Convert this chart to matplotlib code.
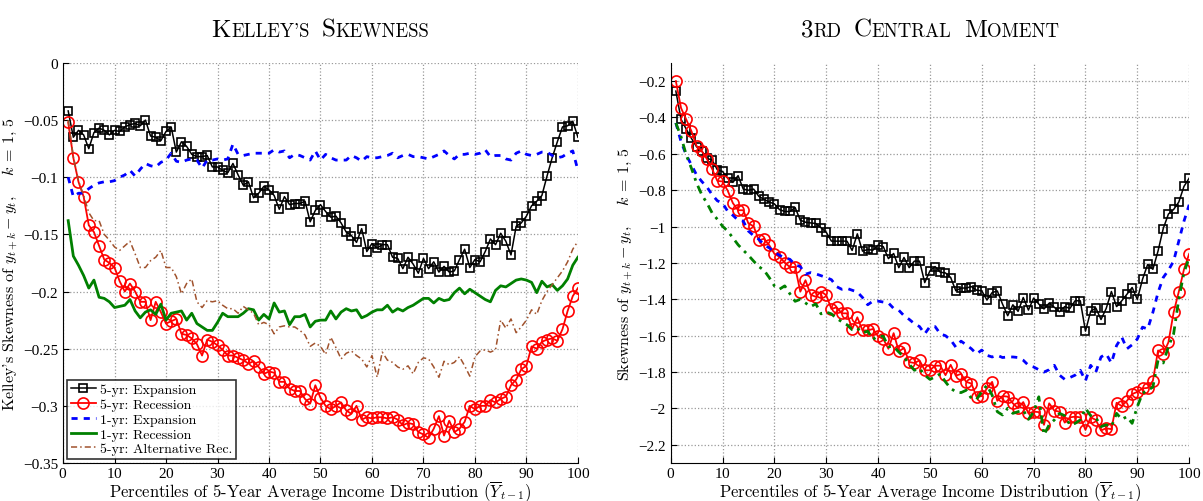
import matplotlib
matplotlib.use("Agg")
import matplotlib.pyplot as plt
import numpy as np
from matplotlib.offsetbox import TextArea, HPacker, AnchoredOffsetbox

plt.rcParams['font.family'] = ['cmr10', 'DejaVu Serif']
plt.rcParams['mathtext.fontset'] = 'cm'
plt.rcParams['axes.formatter.use_mathtext'] = True

pct = np.arange(1, 101)

# Kelley's skewness (left panel)
kel_exp5 = [-0.042, -0.065, -0.059, -0.063, -0.075, -0.061, -0.057, -0.059, -0.063, -0.059,
            -0.060, -0.056, -0.054, -0.053, -0.055, -0.050, -0.064, -0.065, -0.068, -0.060,
            -0.056, -0.078, -0.069, -0.073, -0.080, -0.082, -0.082, -0.081, -0.091, -0.091,
            -0.094, -0.096, -0.088, -0.098, -0.107, -0.104, -0.118, -0.114, -0.108, -0.111,
            -0.116, -0.128, -0.117, -0.124, -0.123, -0.123, -0.121, -0.139, -0.129, -0.124,
            -0.130, -0.135, -0.134, -0.140, -0.148, -0.151, -0.157, -0.145, -0.165, -0.158,
            -0.162, -0.159, -0.159, -0.170, -0.171, -0.180, -0.170, -0.176, -0.184, -0.171,
            -0.180, -0.174, -0.183, -0.178, -0.183, -0.182, -0.172, -0.163, -0.179, -0.172,
            -0.174, -0.165, -0.154, -0.159, -0.149, -0.156, -0.168, -0.143, -0.140, -0.134,
            -0.125, -0.121, -0.116, -0.099, -0.083, -0.069, -0.056, -0.055, -0.051, -0.065]
kel_rec5 = [-0.052, -0.083, -0.104, -0.117, -0.142, -0.148, -0.160, -0.172, -0.175, -0.179,
            -0.191, -0.200, -0.193, -0.200, -0.209, -0.209, -0.225, -0.209, -0.218, -0.228,
            -0.226, -0.224, -0.237, -0.238, -0.241, -0.246, -0.256, -0.242, -0.244, -0.247,
            -0.251, -0.256, -0.256, -0.258, -0.260, -0.263, -0.261, -0.266, -0.272, -0.270,
            -0.271, -0.279, -0.279, -0.285, -0.287, -0.287, -0.294, -0.298, -0.282, -0.293,
            -0.300, -0.303, -0.300, -0.297, -0.304, -0.307, -0.300, -0.312, -0.310, -0.311,
            -0.310, -0.310, -0.311, -0.310, -0.312, -0.317, -0.315, -0.316, -0.323, -0.325,
            -0.328, -0.320, -0.309, -0.326, -0.313, -0.323, -0.320, -0.314, -0.300, -0.303,
            -0.300, -0.300, -0.295, -0.297, -0.294, -0.292, -0.282, -0.277, -0.268, -0.265,
            -0.248, -0.250, -0.244, -0.242, -0.241, -0.243, -0.233, -0.217, -0.204, -0.197]
kel_exp1 = [-0.100, -0.117, -0.114, -0.114, -0.110, -0.107, -0.105, -0.104, -0.104, -0.103,
            -0.100, -0.098, -0.094, -0.099, -0.093, -0.088, -0.090, -0.091, -0.087, -0.085,
            -0.079, -0.086, -0.087, -0.085, -0.084, -0.085, -0.092, -0.085, -0.085, -0.084,
            -0.085, -0.084, -0.071, -0.080, -0.081, -0.080, -0.079, -0.079, -0.079, -0.079,
            -0.076, -0.078, -0.077, -0.083, -0.080, -0.081, -0.083, -0.085, -0.077, -0.085,
            -0.080, -0.083, -0.085, -0.085, -0.085, -0.081, -0.083, -0.086, -0.082, -0.083,
            -0.083, -0.082, -0.081, -0.079, -0.083, -0.081, -0.080, -0.082, -0.082, -0.083,
            -0.084, -0.082, -0.080, -0.077, -0.081, -0.084, -0.080, -0.080, -0.079, -0.080,
            -0.079, -0.076, -0.082, -0.081, -0.081, -0.084, -0.085, -0.079, -0.077, -0.080,
            -0.081, -0.080, -0.078, -0.078, -0.081, -0.083, -0.082, -0.079, -0.077, -0.094]
kel_rec1 = [-0.138, -0.169, -0.177, -0.186, -0.197, -0.190, -0.205, -0.206, -0.209, -0.214,
            -0.213, -0.212, -0.207, -0.217, -0.223, -0.218, -0.216, -0.220, -0.211, -0.225,
            -0.219, -0.218, -0.217, -0.225, -0.219, -0.228, -0.231, -0.234, -0.234, -0.227,
            -0.219, -0.222, -0.222, -0.222, -0.219, -0.215, -0.216, -0.225, -0.220, -0.224,
            -0.210, -0.218, -0.217, -0.229, -0.222, -0.222, -0.220, -0.231, -0.226, -0.225,
            -0.225, -0.217, -0.224, -0.218, -0.215, -0.217, -0.216, -0.223, -0.221, -0.218,
            -0.216, -0.216, -0.212, -0.218, -0.215, -0.217, -0.214, -0.212, -0.209, -0.206,
            -0.206, -0.210, -0.206, -0.208, -0.207, -0.201, -0.197, -0.202, -0.198, -0.201,
            -0.204, -0.207, -0.209, -0.199, -0.195, -0.196, -0.193, -0.190, -0.189, -0.190,
            -0.192, -0.201, -0.191, -0.196, -0.194, -0.199, -0.195, -0.189, -0.177, -0.170]
kel_alt5 = [-0.050, -0.082, -0.103, -0.116, -0.131, -0.138, -0.138, -0.150, -0.155, -0.161,
            -0.164, -0.160, -0.156, -0.167, -0.179, -0.179, -0.173, -0.170, -0.164, -0.179,
            -0.179, -0.187, -0.202, -0.193, -0.189, -0.209, -0.214, -0.208, -0.209, -0.208,
            -0.212, -0.215, -0.215, -0.219, -0.213, -0.216, -0.219, -0.229, -0.227, -0.229,
            -0.237, -0.231, -0.230, -0.231, -0.231, -0.234, -0.238, -0.248, -0.245, -0.248,
            -0.255, -0.240, -0.249, -0.259, -0.254, -0.252, -0.256, -0.259, -0.266, -0.256,
            -0.275, -0.253, -0.260, -0.262, -0.266, -0.268, -0.265, -0.272, -0.262, -0.258,
            -0.259, -0.266, -0.275, -0.261, -0.264, -0.262, -0.257, -0.265, -0.274, -0.257,
            -0.252, -0.251, -0.253, -0.251, -0.225, -0.232, -0.224, -0.236, -0.231, -0.225,
            -0.216, -0.220, -0.208, -0.200, -0.194, -0.188, -0.182, -0.174, -0.163, -0.156]

# 3rd central moment (right panel)
m3_exp5 = [-0.255, -0.410, -0.464, -0.515, -0.561, -0.585, -0.625, -0.634, -0.688, -0.697,
           -0.734, -0.757, -0.720, -0.794, -0.800, -0.794, -0.834, -0.850, -0.865, -0.875,
           -0.907, -0.917, -0.917, -0.895, -0.965, -0.976, -0.980, -0.983, -1.007, -1.031,
           -1.080, -1.080, -1.080, -1.080, -1.131, -1.040, -1.135, -1.126, -1.130, -1.102,
           -1.110, -1.176, -1.148, -1.226, -1.170, -1.226, -1.190, -1.190, -1.308, -1.244,
           -1.220, -1.251, -1.255, -1.280, -1.353, -1.338, -1.338, -1.330, -1.350, -1.353,
           -1.404, -1.363, -1.354, -1.426, -1.490, -1.430, -1.466, -1.390, -1.459, -1.393,
           -1.426, -1.453, -1.421, -1.444, -1.468, -1.440, -1.450, -1.408, -1.408, -1.575,
           -1.466, -1.448, -1.511, -1.450, -1.357, -1.440, -1.408, -1.372, -1.335, -1.400,
           -1.290, -1.208, -1.235, -1.134, -1.011, -0.931, -0.906, -0.865, -0.779, -0.734]
m3_rec5 = [-0.200, -0.348, -0.411, -0.475, -0.557, -0.585, -0.629, -0.683, -0.749, -0.752,
           -0.803, -0.871, -0.910, -0.910, -0.983, -0.998, -1.076, -1.067, -1.102, -1.149,
           -1.167, -1.198, -1.223, -1.222, -1.358, -1.295, -1.375, -1.386, -1.357, -1.377,
           -1.453, -1.444, -1.477, -1.477, -1.563, -1.499, -1.571, -1.571, -1.563, -1.603,
           -1.618, -1.672, -1.586, -1.686, -1.668, -1.745, -1.750, -1.736, -1.790, -1.790,
           -1.765, -1.765, -1.817, -1.760, -1.820, -1.810, -1.854, -1.863, -1.936, -1.932,
           -1.890, -1.854, -1.958, -1.932, -1.935, -1.972, -1.999, -1.965, -2.027, -2.018,
           -2.020, -2.090, -1.972, -2.012, -2.018, -2.078, -2.049, -2.045, -2.049, -2.118,
           -2.049, -2.063, -2.121, -2.109, -2.114, -1.969, -1.987, -1.958, -1.921, -1.909,
           -1.890, -1.887, -1.848, -1.681, -1.699, -1.636, -1.472, -1.358, -1.235, -1.150]
m3_exp1 = [-0.430, -0.533, -0.606, -0.661, -0.716, -0.752, -0.783, -0.825, -0.858, -0.871,
           -0.916, -0.938, -0.965, -0.970, -1.025, -1.050, -1.070, -1.100, -1.117, -1.140,
           -1.158, -1.172, -1.180, -1.210, -1.220, -1.262, -1.253, -1.260, -1.270, -1.280,
           -1.292, -1.330, -1.345, -1.340, -1.350, -1.360, -1.390, -1.430, -1.410, -1.410,
           -1.415, -1.420, -1.450, -1.460, -1.490, -1.510, -1.534, -1.550, -1.590, -1.550,
           -1.550, -1.590, -1.600, -1.623, -1.663, -1.630, -1.650, -1.672, -1.700, -1.679,
           -1.708, -1.717, -1.708, -1.720, -1.717, -1.717, -1.720, -1.735, -1.763, -1.772,
           -1.787, -1.800, -1.787, -1.763, -1.817, -1.840, -1.830, -1.817, -1.790, -1.848,
           -1.763, -1.800, -1.717, -1.700, -1.750, -1.654, -1.608, -1.672, -1.650, -1.618,
           -1.553, -1.563, -1.472, -1.362, -1.280, -1.240, -1.190, -1.080, -0.970, -0.880]
m3_rec1 = [-0.430, -0.506, -0.606, -0.679, -0.761, -0.825, -0.871, -0.925, -0.960, -0.998,
           -1.025, -1.062, -1.100, -1.130, -1.158, -1.190, -1.220, -1.240, -1.280, -1.326,
           -1.344, -1.326, -1.370, -1.411, -1.400, -1.420, -1.440, -1.425, -1.480, -1.470,
           -1.480, -1.505, -1.523, -1.540, -1.567, -1.559, -1.585, -1.575, -1.620, -1.603,
           -1.603, -1.660, -1.660, -1.690, -1.717, -1.757, -1.790, -1.780, -1.817, -1.840,
           -1.827, -1.810, -1.854, -1.890, -1.908, -1.913, -1.900, -1.945, -1.950, -1.908,
           -1.872, -1.927, -2.018, -2.036, -1.999, -2.027, -2.018, -2.009, -2.060, -2.020,
           -1.936, -2.145, -2.090, -2.063, -2.027, -2.040, -2.090, -2.082, -2.063, -1.999,
           -2.040, -2.050, -2.100, -2.090, -2.100, -2.027, -2.060, -2.045, -2.082, -1.990,
           -1.917, -1.900, -1.883, -1.735, -1.750, -1.660, -1.590, -1.399, -1.253, -1.170]

labels = ['5-yr: Expansion', '5-yr: Recession', '1-yr: Expansion',
          '1-yr: Recession', '5-yr: Alternative Rec.']

tick_font = {'family': 'Liberation Serif', 'size': 11}


def smallcaps_title(ax, words, big=18, small=13.5):
    # fake small caps: first char big, rest upper-case and smaller
    boxes = []
    for first, rest in words:
        parts = [TextArea(first, textprops=dict(size=big, family='cmr10'))]
        if rest:
            parts.append(TextArea(rest, textprops=dict(size=small, family='cmr10')))
        boxes.append(HPacker(children=parts, align="baseline", pad=0, sep=0))
    pack = HPacker(children=boxes, align="baseline", pad=0, sep=9)
    ab = AnchoredOffsetbox(loc='lower center', child=pack, frameon=False,
                           bbox_to_anchor=(0.5, 1.055), bbox_transform=ax.transAxes,
                           borderpad=0, pad=0)
    ax.add_artist(ab)


def style_axes(ax):
    ax.spines['top'].set_visible(False)
    ax.spines['right'].set_visible(False)
    ax.grid(True, linestyle=':', color='#999999', linewidth=0.9)
    ax.tick_params(direction='in', length=4, top=False, right=False)
    ax.tick_params(axis='x', pad=2)
    ax.set_xlim(0, 100)
    ax.set_xticks(np.arange(0, 101, 10))
    for lbl in ax.get_xticklabels() + ax.get_yticklabels():
        lbl.set_fontfamily(tick_font['family'])
        lbl.set_fontsize(tick_font['size'])
    ax.set_xlabel(r'Percentiles of 5-Year Average Income Distribution ($\overline{Y}_{t-1}$)',
                  fontsize=12, labelpad=-1)


fig = plt.figure(figsize=(12.03, 5.02), dpi=100)
ax1 = fig.add_axes([0.0524, 0.0757, 0.428, 0.797])
ax2 = fig.add_axes([0.5575, 0.0757, 0.431, 0.797])

# left panel
ax1.plot(pct, kel_exp5, color='black', lw=1.1, marker='s', ms=5.5, mfc='none', mew=1.2, label=labels[0])
ax1.plot(pct, kel_rec5, color='red', lw=1.3, marker='o', ms=8, mfc='none', mew=1.2, label=labels[1])
ax1.plot(pct, kel_exp1, color='blue', lw=2, ls=(0, (2.2, 2.2)), label=labels[2])
ax1.plot(pct, kel_rec1, color='green', lw=2, label=labels[3])
ax1.plot(pct, kel_alt5, color='#A0522D', lw=1.1, ls=(0, (4, 2, 1, 2)), label=labels[4])
ax1.set_ylim(-0.35, 0)
ax1.set_yticks(np.arange(-0.35, 0.001, 0.05))
ax1.set_yticklabels(['\u22120.35', '\u22120.3', '\u22120.25', '\u22120.2', '\u22120.15',
                     '\u22120.1', '\u22120.05', '0'])
style_axes(ax1)
ax1.set_ylabel(r"Kelley's Skewness of $y_{t+k} - y_t$,    $k$ = 1, 5", fontsize=11.5, labelpad=2)
leg = ax1.legend(loc='lower left', fontsize=10, frameon=True, fancybox=False,
                 edgecolor='black', borderpad=0.25, labelspacing=0.15, handlelength=1.8,
                 handletextpad=0.3, borderaxespad=0.3)
leg.get_frame().set_linewidth(1.2)
smallcaps_title(ax1, [('K', "ELLEY'S"), ('S', 'KEWNESS')])

# right panel
ax2.plot(pct, m3_exp5, color='black', lw=1.1, marker='s', ms=5.5, mfc='none', mew=1.2)
ax2.plot(pct, m3_rec5, color='red', lw=1.3, marker='o', ms=8, mfc='none', mew=1.2)
ax2.plot(pct, m3_exp1, color='blue', lw=2, ls=(0, (2.2, 2.2)))
ax2.plot(pct, m3_rec1, color='green', lw=2, ls=(0, (3, 2, 1, 2)))
ax2.set_ylim(-2.3, -0.1)
ax2.set_yticks(np.arange(-2.2, -0.19, 0.2))
ax2.set_yticklabels(['\u22122.2', '\u22122', '\u22121.8', '\u22121.6', '\u22121.4', '\u22121.2',
                     '\u22121', '\u22120.8', '\u22120.6', '\u22120.4', '\u22120.2'])
style_axes(ax2)
ax2.set_ylabel(r"Skewness of $y_{t+k} - y_t$,    $k$ = 1, 5", fontsize=11.5, labelpad=2)
smallcaps_title(ax2, [('3', 'RD'), ('C', 'ENTRAL'), ('M', 'OMENT')])

fig.savefig('out.png', dpi=100)
